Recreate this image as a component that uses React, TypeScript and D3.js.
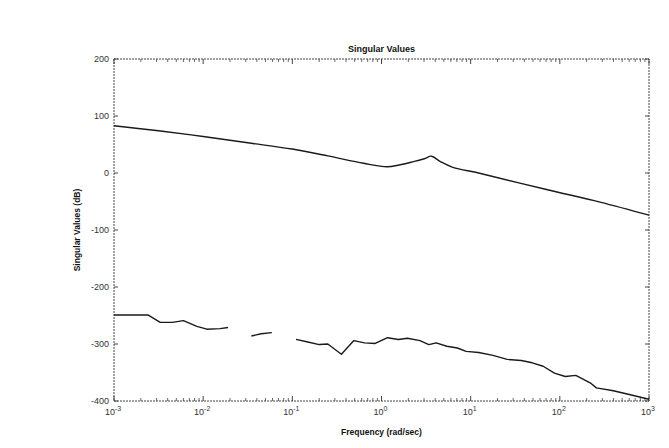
import React from "react";
import * as d3 from "d3";

// Upper singular value curve (frequency in rad/sec, magnitude in dB)
const upperFreq = [0.001, 0.00316, 0.01, 0.0316, 0.1, 0.251, 0.631, 1.15, 1.58, 2.29, 3.02, 3.63, 4.57, 6.31, 12.6, 70.8, 282, 1000];
const upperDb = [83, 74, 64, 53, 42, 30, 17, 11, 14, 20, 25, 29.5, 20, 10, -0.5, -29, -51, -74];

// Lower singular value curve, drawn in three separate pieces (gaps in the plot)
const lowerFreq1 = [0.001, 0.0024, 0.0033, 0.0045, 0.006, 0.0085, 0.011, 0.0155, 0.019];
const lowerDb1 = [-249, -249, -262, -262, -259, -269, -274, -273, -271];
const lowerFreq2 = [0.0347, 0.0447, 0.0589];
const lowerDb2 = [-286, -282, -280];
const lowerFreq3 = [0.11, 0.145, 0.2, 0.25, 0.355, 0.49, 0.645, 0.85, 1.17, 1.55, 1.95, 2.7, 3.4, 4.1, 5.4, 7.1, 8.9, 12.3, 17.8, 25.7, 37, 49, 65, 87, 115, 151, 219, 257, 398, 617, 1000];
const lowerDb3 = [-292, -296, -301, -300, -318, -294, -298, -299, -289, -292, -290, -294, -301, -298, -304, -307, -313, -315, -320, -327, -329, -333, -339, -351, -357, -355, -368, -377, -382, -389, -397];

const yTicks = [200, 100, 0, -100, -200, -300, -400];
const xDecades = [-3, -2, -1, 0, 1, 2, 3];

const titleText = "Singular Values";
const xLabelText = "Frequency (rad/sec)";
const yLabelText = "Singular Values (dB)";

export default function App() {
  const W = 669, H = 448;
  const L = 114, R = 649, T = 59, B = 401;
  const x = d3.scaleLog().domain([1e-3, 1e3]).range([L, R]);
  const y = d3.scaleLinear().domain([-400, 200]).range([B, T]);
  const smooth = d3.line<[number, number]>().x(d => x(d[0])).y(d => y(d[1])).curve(d3.curveCatmullRom.alpha(0.5));
  const line = d3.line<[number, number]>().x(d => x(d[0])).y(d => y(d[1]));
  const zip = (f: number[], v: number[]) => f.map((fv, i) => [fv, v[i]] as [number, number]);
  const upper = zip(upperFreq, upperDb);
  const lowers = [
    zip(lowerFreq1, lowerDb1),
    zip(lowerFreq2, lowerDb2),
    zip(lowerFreq3, lowerDb3),
  ];
  const minor: number[] = [];
  for (let e = -3; e < 3; e++) for (let m = 2; m <= 9; m++) minor.push(m * Math.pow(10, e));
  const frame = "#444";
  const font = "'Liberation Sans', Arial, sans-serif";
  return (
    <svg width={W} height={H} style={{ position: "absolute", left: 0, top: 0, background: "#fff" }} fontFamily={font}>
      <rect x={0} y={0} width={W} height={H} fill="#fff" />
      {/* frame */}
      <rect x={L} y={T} width={R - L} height={B - T} fill="none" stroke={frame} strokeWidth={1} strokeDasharray="2,1" />
      {/* minor x ticks */}
      {minor.map((m, i) => (
        <g key={"mn" + i} stroke={frame} strokeWidth={0.8}>
          <line x1={x(m)} x2={x(m)} y1={B} y2={B - 3} />
          <line x1={x(m)} x2={x(m)} y1={T} y2={T + 3} />
        </g>
      ))}
      {/* major x ticks + labels */}
      {xDecades.map(e => (
        <g key={"mx" + e}>
          <line x1={x(Math.pow(10, e))} x2={x(Math.pow(10, e))} y1={B} y2={B - 5} stroke={frame} strokeWidth={1} />
          <line x1={x(Math.pow(10, e))} x2={x(Math.pow(10, e))} y1={T} y2={T + 5} stroke={frame} strokeWidth={1} />
          <text x={x(Math.pow(10, e)) - 1} y={415} fontSize={9} fill="#333" textAnchor="middle">
            10<tspan dy={-4} fontSize={7}>{e}</tspan>
          </text>
        </g>
      ))}
      {/* y ticks + labels */}
      {yTicks.map(v => (
        <g key={"y" + v}>
          <line x1={L} x2={L + 4} y1={y(v)} y2={y(v)} stroke={frame} strokeWidth={1} />
          <line x1={R} x2={R - 4} y1={y(v)} y2={y(v)} stroke={frame} strokeWidth={1} />
          <text x={109} y={y(v) + 3} fontSize={9} fill="#333" textAnchor="end">{v}</text>
        </g>
      ))}
      {/* curves */}
      <path d={smooth(upper) || ""} fill="none" stroke="#1a1a1a" strokeWidth={1.4} strokeLinejoin="round" />
      {lowers.map((c, i) => (
        <path key={"c" + i} d={line(c) || ""} fill="none" stroke="#1a1a1a" strokeWidth={1.4} strokeLinejoin="round" />
      ))}
      {/* labels */}
      <text x={(L + R) / 2} y={52} fontSize={9} fontWeight="bold" textAnchor="middle" fill="#111">{titleText}</text>
      <text x={(L + R) / 2} y={435} fontSize={8.5} fontWeight="bold" textAnchor="middle" fill="#111">{xLabelText}</text>
      <text transform={`translate(80,${(T + B) / 2}) rotate(-90)`} fontSize={8.5} fontWeight="bold" textAnchor="middle" fill="#111">{yLabelText}</text>
    </svg>
  );
}
